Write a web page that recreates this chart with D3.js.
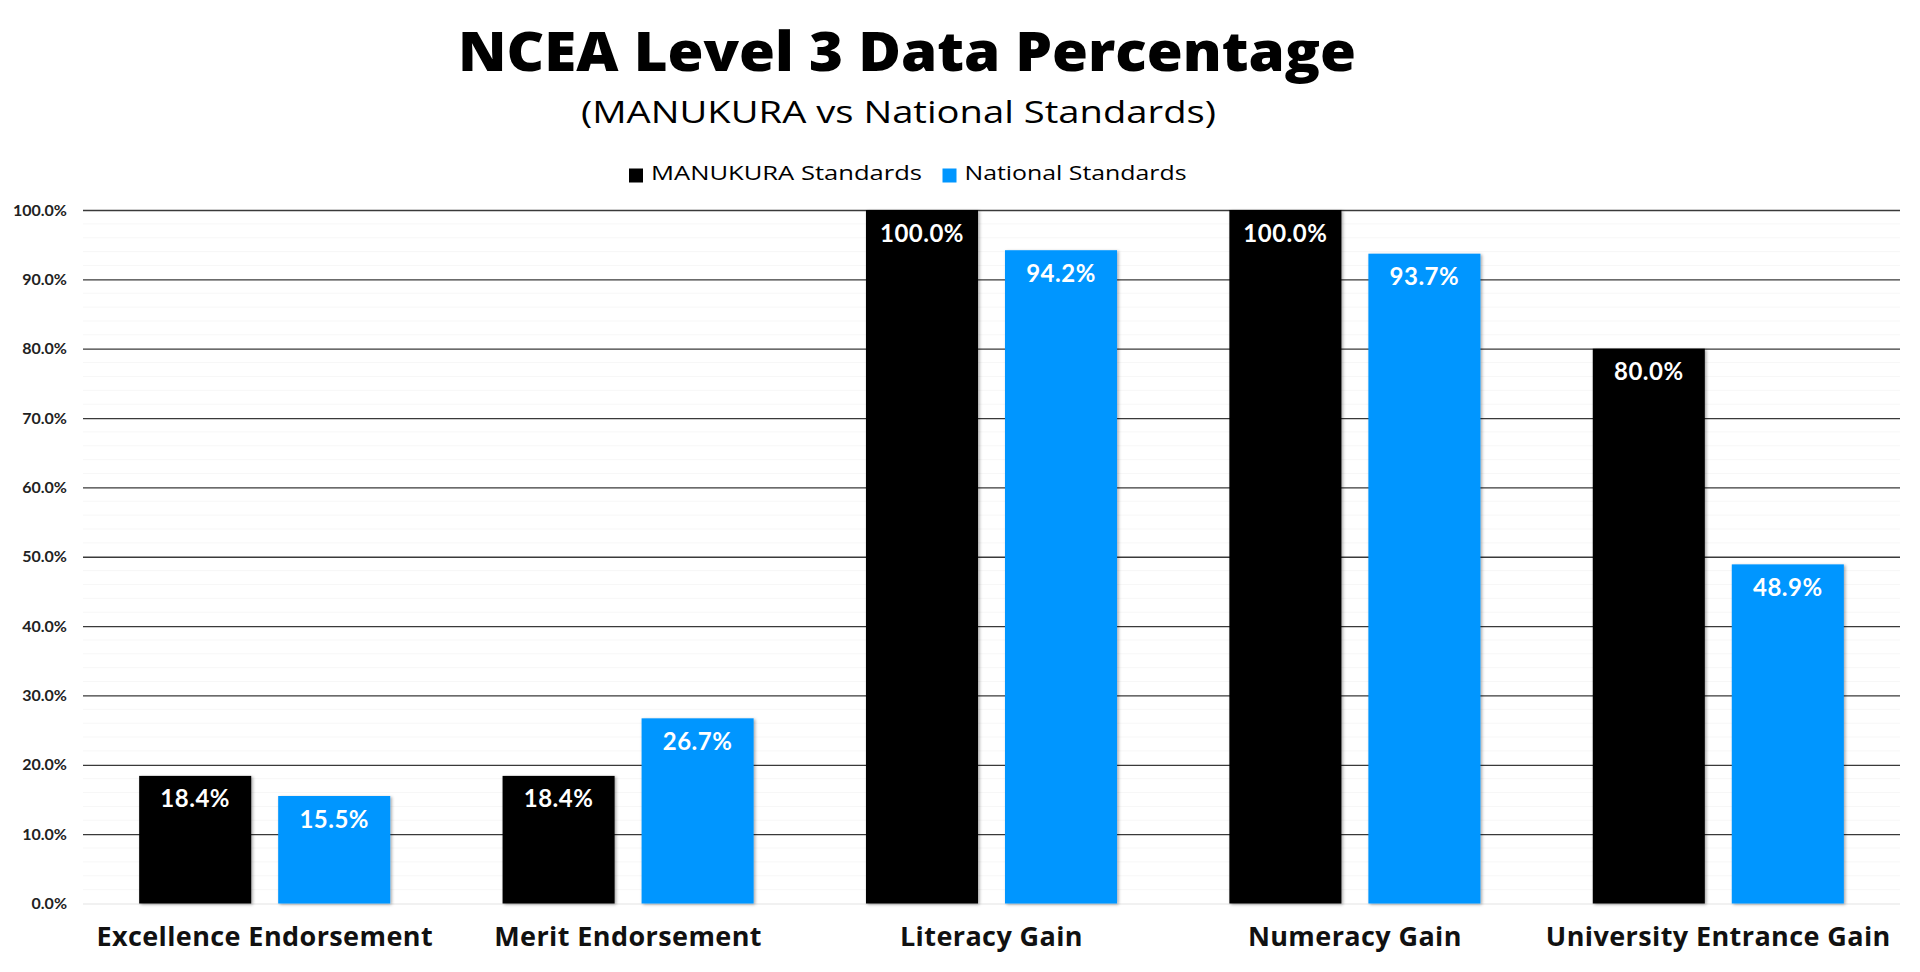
<!DOCTYPE html>
<html>
<head>
<meta charset="utf-8">
<script src="https://cdn.jsdelivr.net/npm/d3@7"></script>
<style>
  body { margin: 0; background: #fff; }
  svg text { font-family: "Open Sans", sans-serif; }
</style>
</head>
<body>
<div class="chart"></div>
<script>
// data
const categories = ["Excellence Endorsement", "Merit Endorsement", "Literacy Gain", "Numeracy Gain", "University Entrance Gain"];
const seriesNames = ["MANUKURA Standards", "National Standards"];
const manukura = [18.4, 18.4, 100.0, 100.0, 80.0];
const national = [15.5, 26.7, 94.2, 93.7, 48.9];
const yTicks = [0, 10, 20, 30, 40, 50, 60, 70, 80, 90, 100];
const colours = ["#000000", "#0096ff"];

const width = 1920, height = 972;
const margin = { top: 210, right: 20, bottom: 68.5, left: 83 };

let svg = d3.select(".chart").append("svg")
  .attr("width", width)
  .attr("height", height);

// soft shadow behind bars
let defs = svg.append("defs");
let shadow = defs.append("filter").attr("id", "shadow")
  .attr("x", "-10%").attr("y", "-10%").attr("width", "130%").attr("height", "130%");
shadow.append("feDropShadow")
  .attr("dx", 1.5).attr("dy", 1)
  .attr("stdDeviation", 1.8)
  .attr("flood-color", "#000")
  .attr("flood-opacity", 0.35);

let x0 = d3.scaleBand()
  .domain(categories)
  .range([margin.left, width - margin.right]);

let x1 = d3.scaleBand()
  .domain(seriesNames)
  .range([0, x0.bandwidth()])
  .paddingInner(0.194)
  .paddingOuter(0.404);

let y = d3.scaleLinear()
  .domain([0, 100])
  .range([height - margin.bottom, margin.top]);

// faint minor grid every 2%
svg.append("g")
  .selectAll("line")
  .data(d3.range(2, 100, 2).filter(d => d % 10 != 0))
  .enter()
  .append("line")
  .attr("x1", margin.left)
  .attr("x2", width - margin.right)
  .attr("y1", d => y(d))
  .attr("y2", d => y(d))
  .style("stroke", "#f7f7f7")
  .style("stroke-width", 1);

// major grid + tick labels
let yAxis = d3.axisLeft(y)
  .tickValues(yTicks)
  .tickSize(-(width - margin.left - margin.right))
  .tickPadding(16)
  .tickFormat(d => d3.format(".1f")(d) + "%");

let gy = svg.append("g")
  .attr("class", "axis yAxis")
  .attr("transform", `translate(${margin.left},0)`)
  .call(yAxis);

gy.select(".domain").remove();
gy.selectAll(".tick line")
  .style("stroke", d => d == 0 ? "#ececec" : "#3a3a3a")
  .style("stroke-width", 1.3);
gy.selectAll(".tick text")
  .style("font-family", "Lato, sans-serif")
  .style("font-weight", 700)
  .style("font-size", "16px")
  .style("fill", "#222");

// bars
let rows = categories.map((c, i) => ({ cat: c, values: [manukura[i], national[i]] }));

let groups = svg.append("g")
  .selectAll("g.cat")
  .data(rows)
  .enter()
  .append("g")
  .attr("class", "cat")
  .attr("transform", d => `translate(${x0(d.cat)},0)`);

let cells = groups.selectAll("g.bar")
  .data(d => d.values.map((v, j) => ({ name: seriesNames[j], value: v, colour: colours[j] })))
  .enter()
  .append("g")
  .attr("class", "bar");

cells.append("rect")
  .attr("x", d => x1(d.name))
  .attr("y", d => y(d.value))
  .attr("width", x1.bandwidth())
  .attr("height", d => y(0) - y(d.value))
  .style("fill", d => d.colour)
  .attr("filter", "url(#shadow)");

cells.append("text")
  .attr("class", "valueLabel")
  .attr("x", d => x1(d.name) + x1.bandwidth() / 2)
  .attr("y", d => y(d.value) + 31.5)
  .style("text-anchor", "middle")
  .style("font-family", "Lato, sans-serif")
  .style("font-weight", 700)
  .style("font-size", "24px")
  .style("letter-spacing", "0.5px")
  .style("fill", "#fff")
  .text(d => d3.format(".1f")(d.value) + "%");

// category labels
svg.append("g")
  .selectAll("text")
  .data(categories)
  .enter()
  .append("text")
  .attr("x", d => x0(d) + x0.bandwidth() / 2)
  .attr("y", 946)
  .style("text-anchor", "middle")
  .style("font-weight", 700)
  .style("font-size", "27px")
  .style("letter-spacing", "0.4px")
  .style("fill", "#111")
  .text(d => d);

// titles
svg.append("text")
  .attr("x", 907)
  .attr("y", 71)
  .style("text-anchor", "middle")
  .style("font-weight", 800)
  .style("font-size", "54px")
  .attr("textLength", 898)
  .attr("lengthAdjust", "spacingAndGlyphs")
  .text("NCEA Level 3 Data Percentage");

svg.append("text")
  .attr("x", 898.5)
  .attr("y", 123)
  .style("text-anchor", "middle")
  .style("font-size", "31px")
  .attr("textLength", 635)
  .attr("lengthAdjust", "spacingAndGlyphs")
  .text("(MANUKURA vs National Standards)");

// legend
let legend = svg.append("g").attr("class", "legend");
let legendX = [629, 942.5];
let legendW = [271, 222];
seriesNames.forEach((s, i) => {
  legend.append("rect")
    .attr("x", legendX[i])
    .attr("y", 168.5)
    .attr("width", 14)
    .attr("height", 14)
    .style("fill", colours[i]);
  legend.append("text")
    .attr("x", legendX[i] + 22)
    .attr("y", 180)
    .style("font-size", "20px")
    .attr("textLength", legendW[i])
    .attr("lengthAdjust", "spacingAndGlyphs")
    .text(s);
});
</script>
</body>
</html>
